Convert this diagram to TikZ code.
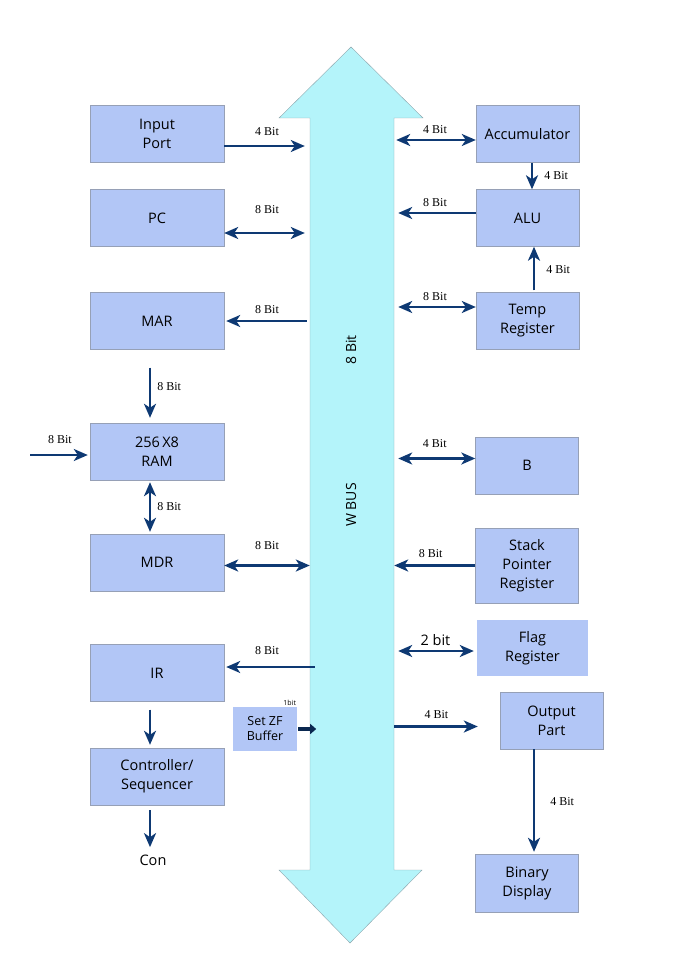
\documentclass[tikz,border=0pt]{standalone}
\usepackage{fontspec}
\setmainfont{Open Sans}
\newfontfamily\lblfont{Liberation Serif}
\usetikzlibrary{arrows.meta,positioning}
\definecolor{boxblue}{RGB}{178,198,246}
\definecolor{boxline}{RGB}{150,160,182}
\definecolor{busfill}{RGB}{180,244,250}
\definecolor{busline}{RGB}{140,165,172}
\definecolor{wire}{RGB}{14,57,115}

\begin{document}
\begin{tikzpicture}[x=1pt,y=-1pt,
	blk/.style={draw=boxline,fill=boxblue,minimum width=134pt,minimum height=57pt,align=center,inner sep=0pt,font=\fontsize{14.5}{19}\selectfont},
	rblk/.style={blk,minimum width=103pt},
	conn/.style={draw=wire,line width=2.5pt,-{Stealth[length=14pt,width=12pt,inset=4pt]}},
	dconn/.style={draw=wire,line width=2.5pt,{Stealth[length=14pt,width=12pt,inset=4pt]}-{Stealth[length=14pt,width=12pt,inset=4pt]}},
	lbl/.style={font=\lblfont\fontsize{12}{13}\selectfont,inner sep=1pt},
	vlbl/.style={font=\fontsize{14}{16}\selectfont,rotate=90}]
	\useasboundingbox (0,0) rectangle (679,960);
	\draw[busline,fill=busfill] (351,47) -- (423,118) -- (394,118) -- (394,870) -- (422,870) -- (350,943)
		-- (279,870) -- (310,870) -- (310,118) -- (279,118) -- cycle;
	\node[minimum width=84pt,minimum height=752pt,inner sep=0pt] (bus) at (352,494) {};
	\node[vlbl] (busw) at (351,350) {8 Bit};
	\node[vlbl] (busn) at (351,505) {W BUS};

	\node[blk] (inp) at (157,134) {Input\\Port};
	\node[blk] (pc) at (157,218) {PC};
	\node[blk] (mar) at (157,321) {MAR};
	\node[blk] (ram) at (157,451.5) {256\,X8\\RAM};
	\node[blk] (mdr) at (157,562.5) {MDR};
	\node[blk] (ir) at (157,673) {IR};
	\node[blk] (ctl) at (157,776.5) {Controller/\\Sequencer};
	\node[font=\fontsize{14.5}{16}\selectfont] (con) at (153,860) {Con};
	\node[blk,draw=none,minimum width=64pt,minimum height=44pt,font=\fontsize{12.5}{15}\selectfont] (szf) at (265,729) {Set ZF\\Buffer};
	\node[font=\fontsize{7}{8}\selectfont,anchor=south east,inner sep=1pt] (szfb) at (szf.north east) {1bit};
	\coordinate (ramin) at (30,455);

	\node[rblk] (acc) at (527.5,134) {Accumulator};
	\node[rblk] (alu) at (527.5,218) {ALU};
	\node[rblk] (tmp) at (527.5,321) {Temp\\Register};
	\node[rblk] (b) at (527,465.5) {B};
	\node[rblk,minimum height=75pt] (sp) at (527,565.5) {Stack\\Pointer\\Register};
	\node[rblk,draw=none,minimum width=111pt,minimum height=56pt] (flag) at (532.5,648) {Flag\\Register};
	\node[rblk] (out) at (551.5,720.5) {Output\\Part};
	\node[rblk,minimum height=58pt] (bin) at (527,883) {Binary\\Display};

	\draw[conn,shorten >=5pt] ([yshift=-12pt]inp.east) -- node[lbl,above=8pt] {4 Bit} ([yshift=-12pt]inp.east -| bus.west);
	\draw[dconn,shorten >=5pt] ([yshift=-15pt]pc.east) -- node[lbl,above=17pt] {8 Bit} ([yshift=-15pt]pc.east -| bus.west);
	\draw[conn,shorten <=3pt,shorten >=2pt] (mar.east -| bus.west) -- node[lbl,above=5pt] {8 Bit} (mar.east);
	\draw[conn,shorten <=18pt,shorten >=5pt] (mar.south -| 150,0) -- node[lbl,right=5pt] {8 Bit} (ram.north -| 150,0);
	\draw[conn,shorten >=2pt] (ramin) -- node[lbl,above=9pt] {8 Bit} (ramin -| ram.west);
	\draw[dconn,shorten <=2pt,shorten >=2pt] (ram.south -| 150,0) -- node[lbl,right=5pt] {8 Bit} (mdr.north -| 150,0);
	\draw[dconn] ([yshift=-3pt]mdr.east) -- node[lbl,above=14pt] {8 Bit} ([yshift=-3pt]mdr.east -| bus.west);
	\draw[conn,shorten <=-5pt,shorten >=2pt] ([yshift=6pt]ir.east -| bus.west) -- node[lbl,above=10pt] {8 Bit} ([yshift=6pt]ir.east);
	\draw[draw=wire!70!black,line width=3.5pt,-{Triangle[length=6pt,width=10pt]},shorten <=1pt] (szf.east) -- ++(19,0);
	\draw[conn,shorten <=8pt,shorten >=3pt] (ir.south -| 150,0) -- (ctl.north -| 150,0);
	\draw[conn,shorten <=5pt,shorten >=4pt] (ctl.south -| 150,0) -- (con.north -| 150,0);

	\draw[dconn,shorten <=2pt] ([yshift=-6pt]acc.west -| bus.east) -- node[lbl,above=4pt] {4 Bit} ([yshift=-6pt]acc.west);
	\draw[conn] (acc.south -| 532,0) -- node[lbl,right=10pt] {4 Bit} (alu.north -| 532,0);
	\draw[conn,shorten >=4pt] ([yshift=5pt]alu.west) -- node[lbl,above=4pt] {8 Bit} ([yshift=5pt]alu.west -| bus.east);
	\draw[conn,shorten <=2pt] (tmp.north -| 534,0) -- node[lbl,right=10pt] {4 Bit} (alu.south -| 534,0);
	\draw[dconn,shorten <=4pt] ([yshift=14pt]tmp.west -| bus.east) -- node[lbl,above=4pt] {8 Bit} ([yshift=14pt]tmp.west);
	\draw[dconn,shorten <=4pt] ([yshift=7pt]b.west -| bus.east) -- node[lbl,above=9pt] {4 Bit} ([yshift=7pt]b.west);
	\draw[conn] (sp.west) -- node[lbl,above=6pt,pos=0.55] {8 Bit} (sp.west -| bus.east);
	\draw[dconn,shorten <=4pt,shorten >=3pt] ([yshift=-3pt]flag.west -| bus.east) -- node[above=3pt,inner sep=1pt,font=\fontsize{14.5}{16}\selectfont] {2 bit} ([yshift=-3pt]flag.west);
	\draw[conn,shorten >=22pt] ([yshift=-6pt]out.west -| bus.east) -- node[lbl,above=6pt,pos=0.4] {4 Bit} ([yshift=-6pt]out.west);
	\draw[conn,shorten >=2pt] (out.south -| 534,0) -- node[lbl,right=14pt] {4 Bit} (bin.north -| 534,0);
\end{tikzpicture}
\end{document}
